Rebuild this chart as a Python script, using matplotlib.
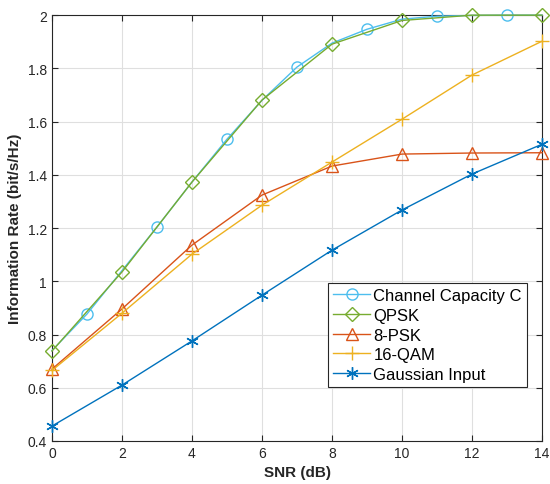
import numpy as np
import matplotlib
matplotlib.use("Agg")
import matplotlib.pyplot as plt

plt.rcParams['font.family'] = ['Liberation Sans', 'DejaVu Sans']

snr_all = list(range(0, 15))
snr = list(range(0, 15, 2))

capacity = [0.74, 0.877, 1.04, 1.204, 1.373, 1.534, 1.68, 1.805, 1.895, 1.947, 1.985, 1.996, 1.999, 2.0, 2.0]
qpsk = [0.738, 1.035, 1.373, 1.681, 1.891, 1.98, 2.0, 2.0]
psk8 = [0.67, 0.896, 1.136, 1.324, 1.433, 1.478, 1.482, 1.483]
qam16 = [0.665, 0.88, 1.102, 1.286, 1.448, 1.609, 1.775, 1.902]
gauss = [0.456, 0.61, 0.776, 0.948, 1.117, 1.268, 1.403, 1.515]

fig = plt.figure(figsize=(5.5, 4.85), dpi=100)
ax = fig.add_axes([0.0945, 0.0887, 0.891, 0.878])

ms = 8
kw = dict(lw=1, clip_on=False, zorder=3)
ax.plot(snr_all, capacity, color='#4DBEEE', marker='o', mfc='none', ms=ms,
        markevery=list(range(1, 15, 2)), label='Channel Capacity C', **kw)
ax.plot(snr, qpsk, color='#77AC30', marker='D', mfc='none', ms=ms - 0.5, label='QPSK', **kw)
ax.plot(snr, psk8, color='#D95319', marker='^', mfc='none', ms=ms + 1, label='8-PSK', **kw)
ax.plot(snr, qam16, color='#EDB120', marker='+', ms=ms + 2, label='16-QAM', **kw)
ax.plot(snr, gauss, color='#0072BD', marker=(6, 2, 0), ms=ms + 1, mew=1,
        label='Gaussian Input', **kw)

ax.set_xlim(0, 14)
ax.set_ylim(0.4, 2)
ax.set_xticks(range(0, 15, 2))
ax.set_yticks(np.arange(0.4, 2.01, 0.2))
ax.set_yticklabels(['0.4', '0.6', '0.8', '1', '1.2', '1.4', '1.6', '1.8', '2'])
ax.grid(True, color='#dfdfdf', lw=0.8)
ax.set_axisbelow(True)
ax.tick_params(direction='in', top=True, right=True, labelsize=10, colors='#262626', length=4)
for s in ax.spines.values():
    s.set_color('#262626')
    s.set_linewidth(0.8)
    s.set_zorder(2.5)

ax.set_xlabel('SNR (dB)', fontsize=11, fontweight='bold', color='#262626')
ax.set_ylabel('Information Rate (bit/s/Hz)', fontsize=11, fontweight='bold', color='#262626')

leg = ax.legend(loc='lower right', bbox_to_anchor=(0.969, 0.127), fontsize=12,
                fancybox=False, edgecolor='#262626', framealpha=1,
                handlelength=2.2, borderaxespad=0, labelspacing=0.28, handletextpad=0.2,
                borderpad=0.3)
leg.get_frame().set_linewidth(0.8)
leg.set_zorder(5)

fig.savefig('out.png', dpi=100)
